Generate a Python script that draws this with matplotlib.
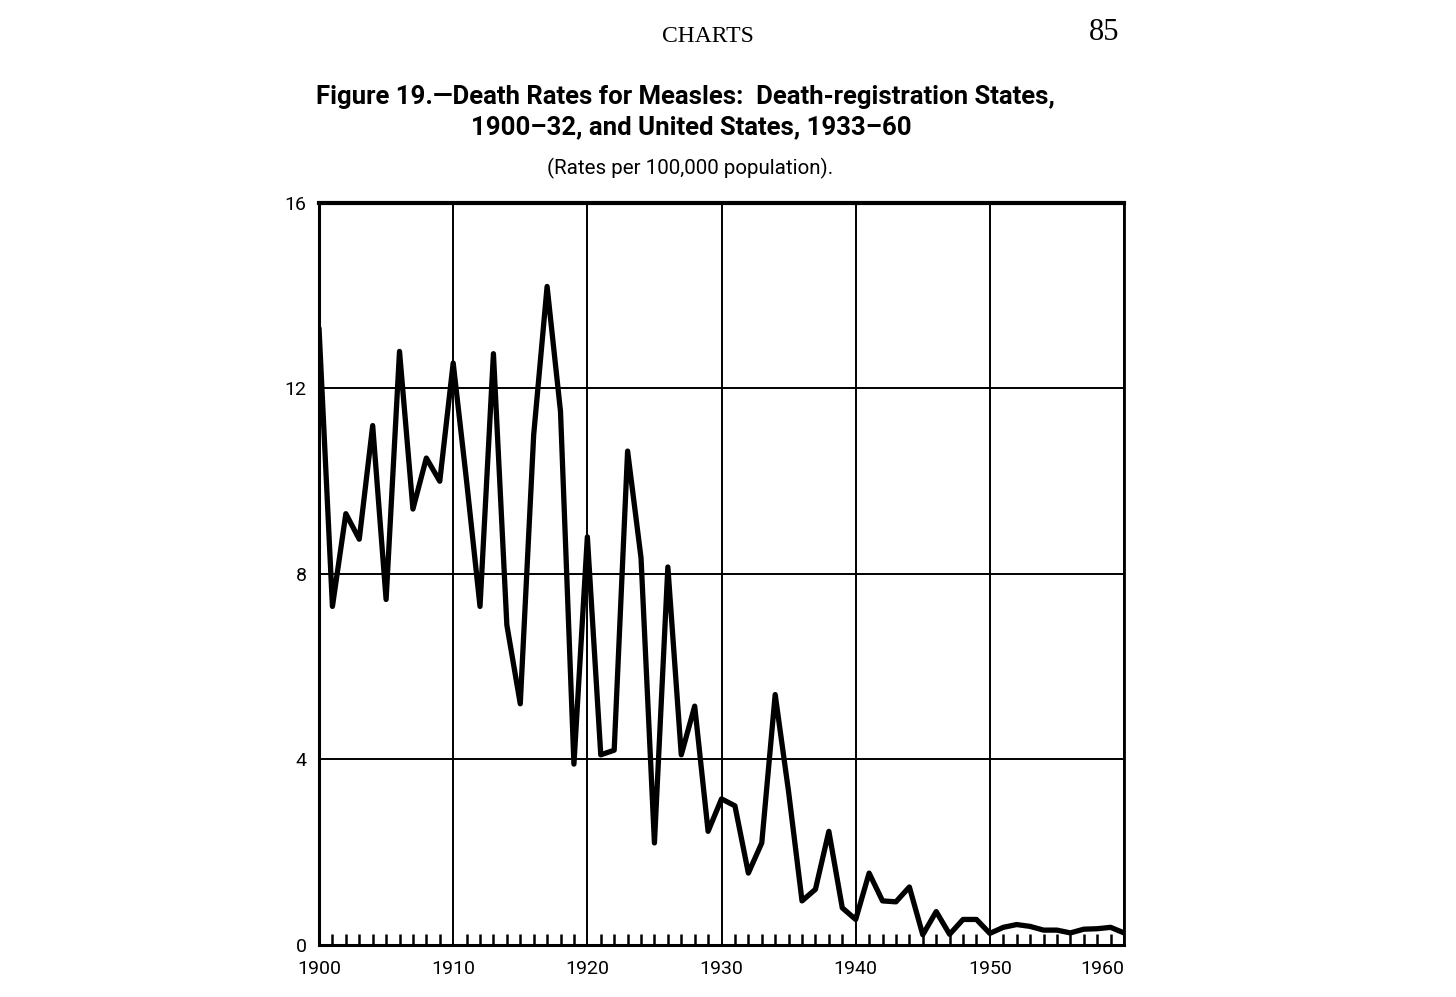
import matplotlib.pyplot as plt
import numpy as np

# measles death rates per 100,000
years = list(range(1900, 1961))
rates = [13.3, 7.3, 9.3, 8.75, 11.2, 7.45, 12.8, 9.4, 10.5, 10.0,
         12.55, 10.0, 7.3, 12.75, 6.9, 5.2, 11.0, 14.2, 11.5, 3.9,
         8.8, 4.1, 4.2, 10.65, 8.35, 2.2, 8.15, 4.1, 5.15, 2.45,
         3.15, 3.0, 1.55, 2.2, 5.4, 3.3, 0.95, 1.2, 2.45, 0.8,
         0.55, 1.55, 0.95, 0.93, 1.25, 0.22, 0.72, 0.23, 0.55, 0.55,
         0.25, 0.38, 0.44, 0.4, 0.32, 0.32, 0.26, 0.34, 0.35, 0.38,
         0.26]

decade_ticks = [1900, 1910, 1920, 1930, 1940, 1950, 1960]
rate_ticks = [0, 4, 8, 12, 16]

title_1 = "Figure 19.\u2014Death Rates for Measles:  Death-registration States,"
title_2 = "1900\u201332, and United States, 1933\u201360"
subtitle = "(Rates per 100,000 population)."

sans = ['Roboto', 'DejaVu Sans']
serif = ['Liberation Serif', 'DejaVu Serif']
plt.rcParams['font.family'] = ['Roboto', 'DejaVu Sans']

fig = plt.figure(figsize=(14.56, 9.97), dpi=100)
ax = fig.add_axes([0.2191, 0.0522, 0.5529, 0.7442])

ax.plot(years, rates, color='black', lw=3.8, solid_joinstyle='round',
        solid_capstyle='round', zorder=3)

ax.set_xlim(1900, 1960)
ax.set_ylim(0, 16)

# grid every decade and every 4 units
ax.set_xticks(decade_ticks)
ax.set_yticks(rate_ticks)
ax.set_xticks(years, minor=True)
ax.grid(True, which='major', color='black', lw=1.4)
ax.tick_params(axis='both', which='major', length=0, labelsize=14)
ax.tick_params(axis='x', which='major', pad=11)
ax.tick_params(axis='y', which='major', pad=9)
ax.tick_params(axis='x', which='minor', direction='in', length=8,
               width=1.8, color='black', bottom=True, top=False)
ax.tick_params(axis='y', which='minor', length=0)

xlabels = ax.set_xticklabels([str(y) for y in decade_ticks])
xlabels[-1].set_horizontalalignment('right')

for side, lw in [('top', 3.0), ('bottom', 2.2), ('left', 2.2), ('right', 2.0)]:
    ax.spines[side].set_linewidth(lw)
    ax.spines[side].set_color('black')

# page header and titles
fig.text(0.486, 0.963, "CHARTS", family=serif,
         fontsize=17, ha='center', va='center')
fig.text(0.758, 0.967, "85", family=serif,
         fontsize=22, ha='center', va='center')
fig.text(0.471, 0.903, title_1, family=sans, fontweight='bold',
         fontsize=18.5, ha='center', va='center')
fig.text(0.475, 0.872, title_2, family=sans, fontweight='bold',
         fontsize=18.5, ha='center', va='center')
fig.text(0.474, 0.831, subtitle, family=sans, fontsize=14.8,
         ha='center', va='center')

fig.savefig('out.png', dpi=100, facecolor='white')
